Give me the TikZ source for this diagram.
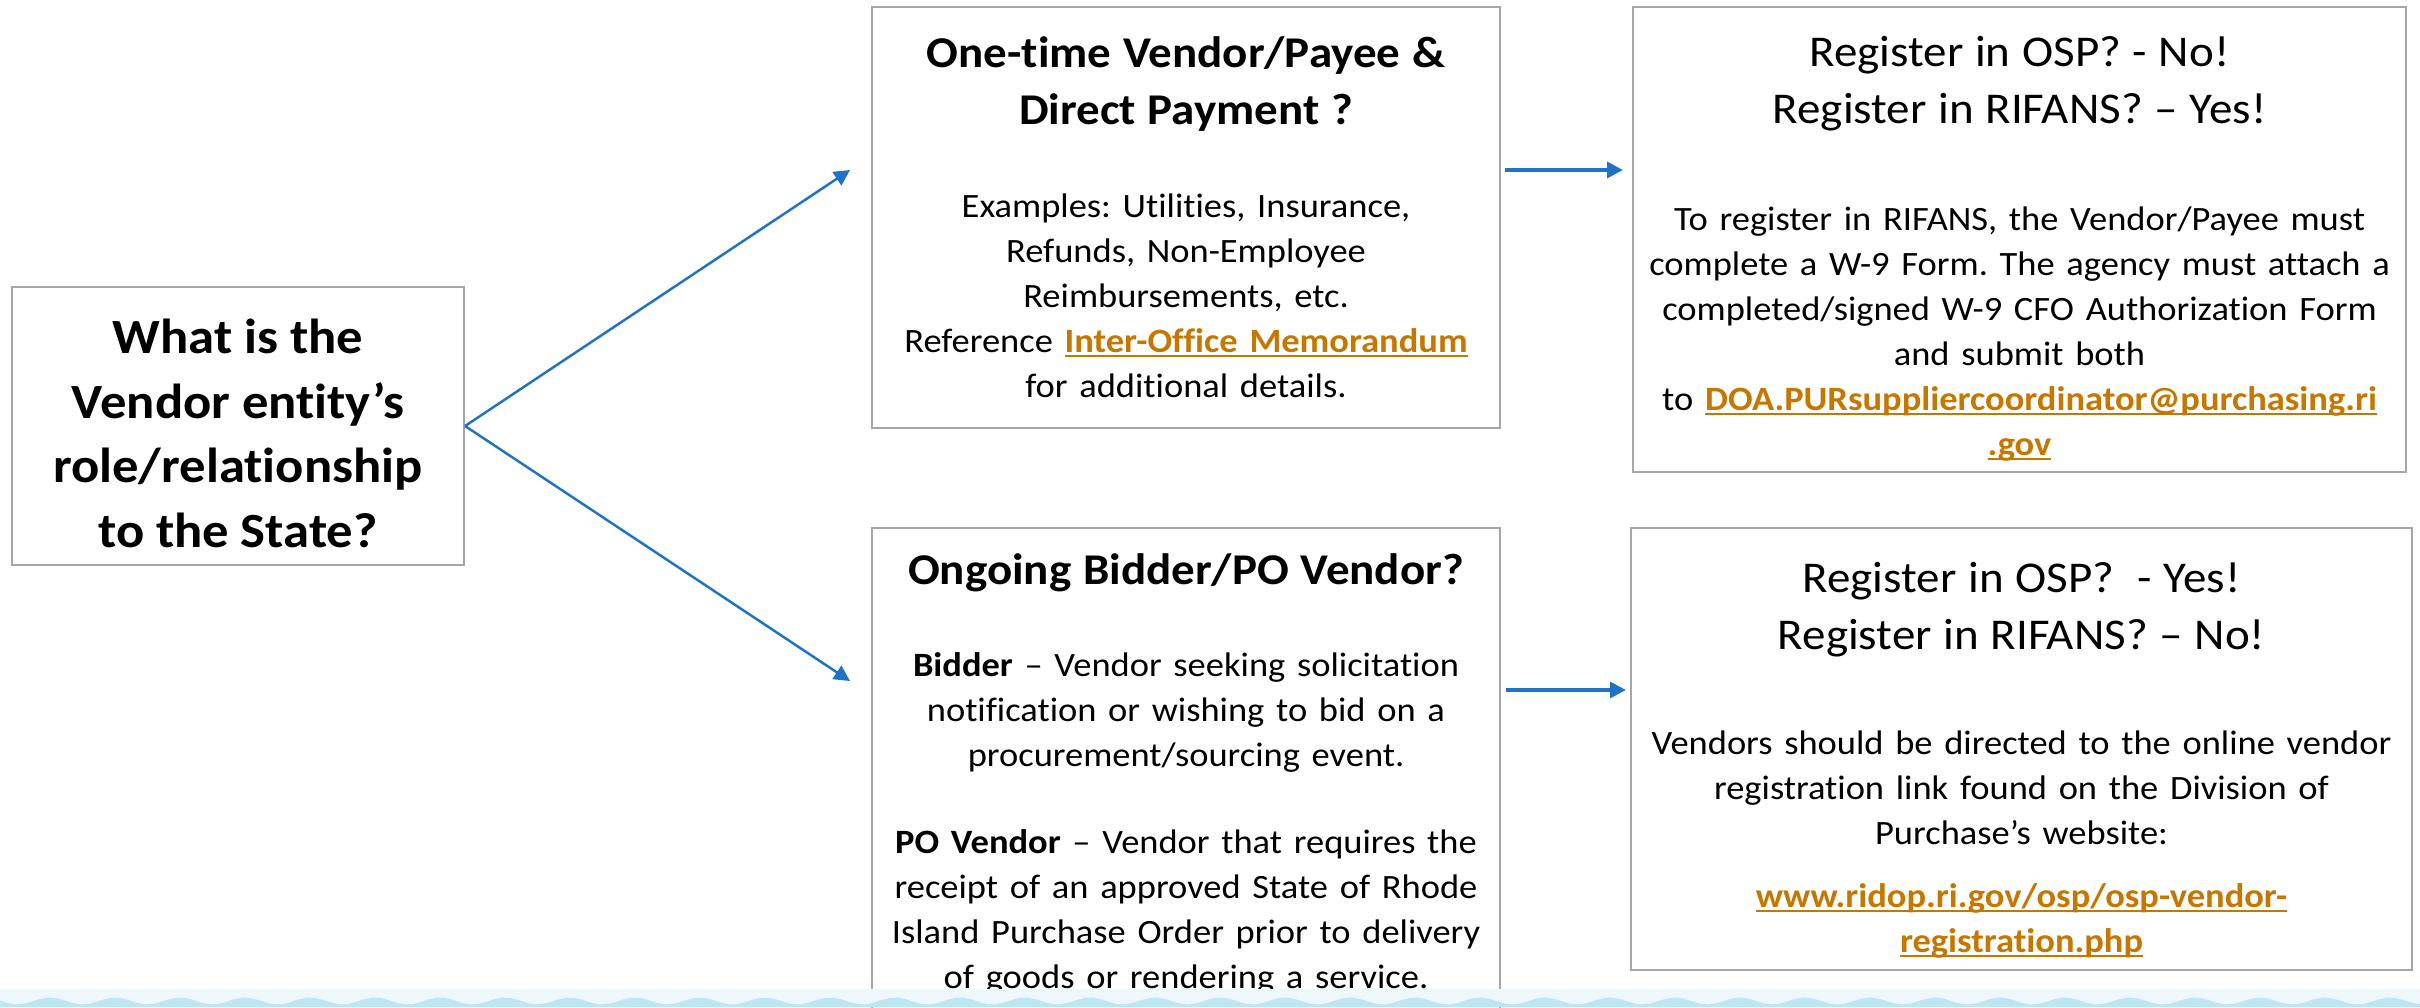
\documentclass[tikz,border=0pt]{standalone}
\usepackage{fontspec}
\setmainfont{Carlito}[Ligatures={TeX,NoCommon}, FakeStretch=1.07]
\usetikzlibrary{arrows.meta}
\setlength{\parindent}{0pt}
\setlength{\parskip}{0pt}
\frenchspacing
\definecolor{boxgray}{RGB}{166,166,166}
\definecolor{arrowblue}{RGB}{31,114,198}
\definecolor{linkorange}{RGB}{197,119,0}
\definecolor{wavelight}{RGB}{238,247,251}
\definecolor{wavedark}{RGB}{190,229,244}
\newcommand\titlesize{\fontsize{12.5}{16.2}\selectfont}
\newcommand\bodysize{\fontsize{9.7}{12.8}\selectfont}
\newcommand\weblink[1]{\leavevmode{\color{linkorange}\bfseries\setbox0\hbox{#1}\rlap{\rule[-1.3pt]{\wd0}{0.6pt}}\box0}}

\begin{document}
\begin{tikzpicture}[
  box/.style={draw=boxgray, line width=0.6pt, fill=white, align=center, inner sep=0pt},
  flow/.style={draw=arrowblue, line width=0.7pt, -{Triangle[length=4.5pt,width=4.5pt]}},
]
\useasboundingbox (0,0) rectangle (24.2,-10.07);
\clip (0,0) rectangle (24.2,-10.07);
\fill[white] (0,0) rectangle (24.2,-10.07);
%% question
\node[box, minimum width=4.52cm, minimum height=2.78cm, text width=4.3cm] (role) at (2.38,-4.26)
  {{\bfseries\fontsize{14}{18.4}\selectfont\rule{0pt}{14pt}What is the\\ Vendor entity's\\ role/relationship\\ to the State?\par}};
%% vendor types
\node[box, minimum width=6.28cm, minimum height=4.21cm, text width=6.1cm] (onetime) at (11.86,-2.175)
  {{\bfseries\titlesize One-time Vendor/Payee \&\\ Direct Payment ?\par}
   \vspace{13.7pt}
   {\bodysize Examples: Utilities, Insurance,\\ Refunds, Non-Employee\\ Reimbursements, etc.\\
    Reference \weblink{Inter-Office Memorandum}\\ for additional details.\par}};
\node[box, minimum width=6.28cm, minimum height=4.92cm, text width=6.2cm] (ongoing) at (11.86,-7.74)
  {{\bfseries\titlesize Ongoing Bidder/PO Vendor?\par}
   \vspace{13.4pt}
   {\bodysize \textbf{Bidder} – Vendor seeking solicitation\\ notification or wishing to bid on a\\ procurement/sourcing event.\par}
   \vspace{12.2pt}
   {\bodysize \textbf{PO Vendor} – Vendor that requires the\\ receipt of an approved State of Rhode\\
    Island Purchase Order prior to delivery\\ of goods or rendering a service.\par}};
%% registration
\node[box, minimum width=7.73cm, minimum height=4.65cm, text width=7.6cm] (rifans) at (20.195,-2.395)
  {{\titlesize\rule{0pt}{14pt}Register in OSP? - No!\\ Register in RIFANS? – Yes!\par}
   \vspace{17.6pt}
   {\bodysize To register in RIFANS, the Vendor/Payee must\\ complete a W-9 Form. The agency must attach a\\
    completed/signed W-9 CFO Authorization Form\\ and submit both\\
    to \weblink{DOA.PURsuppliercoordinator@purchasing.ri}\\ \weblink{.gov}\par}};
\node[box, minimum width=7.81cm, minimum height=4.42cm, text width=7.6cm] (osp) at (20.215,-7.49)
  {{\titlesize\rule{0pt}{15pt}Register in OSP?\ \ - Yes!\\ Register in RIFANS? – No!\par}
   \vspace{17.1pt}
   {\bodysize Vendors should be directed to the online vendor\\ registration link found on the Division of\\ Purchase's website:\par}
   \vspace{5pt}
   {\bodysize \weblink{www.ridop.ri.gov/osp/osp-vendor-}\\ \weblink{registration.php}\par}};
%draw arrows
\coordinate (upper) at (8.50,-1.70);
\coordinate (lower) at (8.50,-6.81);
\coordinate (lowmid) at (15.0,-6.90);
\draw[flow] (role.east) -- (upper);
\draw[flow] (role.east) -- (lower);
\draw[flow, line width=1pt, shorten <=0.04cm, shorten >=0.09cm] (onetime.east |- upper) -- (rifans.west |- upper);
\draw[flow, line width=1pt, shorten <=0.05cm, shorten >=0.04cm] (ongoing.east |- lowmid) -- (osp.west |- lowmid);
%% waves
\fill[wavelight] (0,-9.89) rectangle (24.2,-10.07);
\fill[wavedark] plot[domain=0:24.2, samples=300] (\x,{-10.01+0.035*cos(360*(\x-0.5)/0.65)})
  -- (24.2,-10.07) -- (0,-10.07) -- cycle;
\end{tikzpicture}
\end{document}
